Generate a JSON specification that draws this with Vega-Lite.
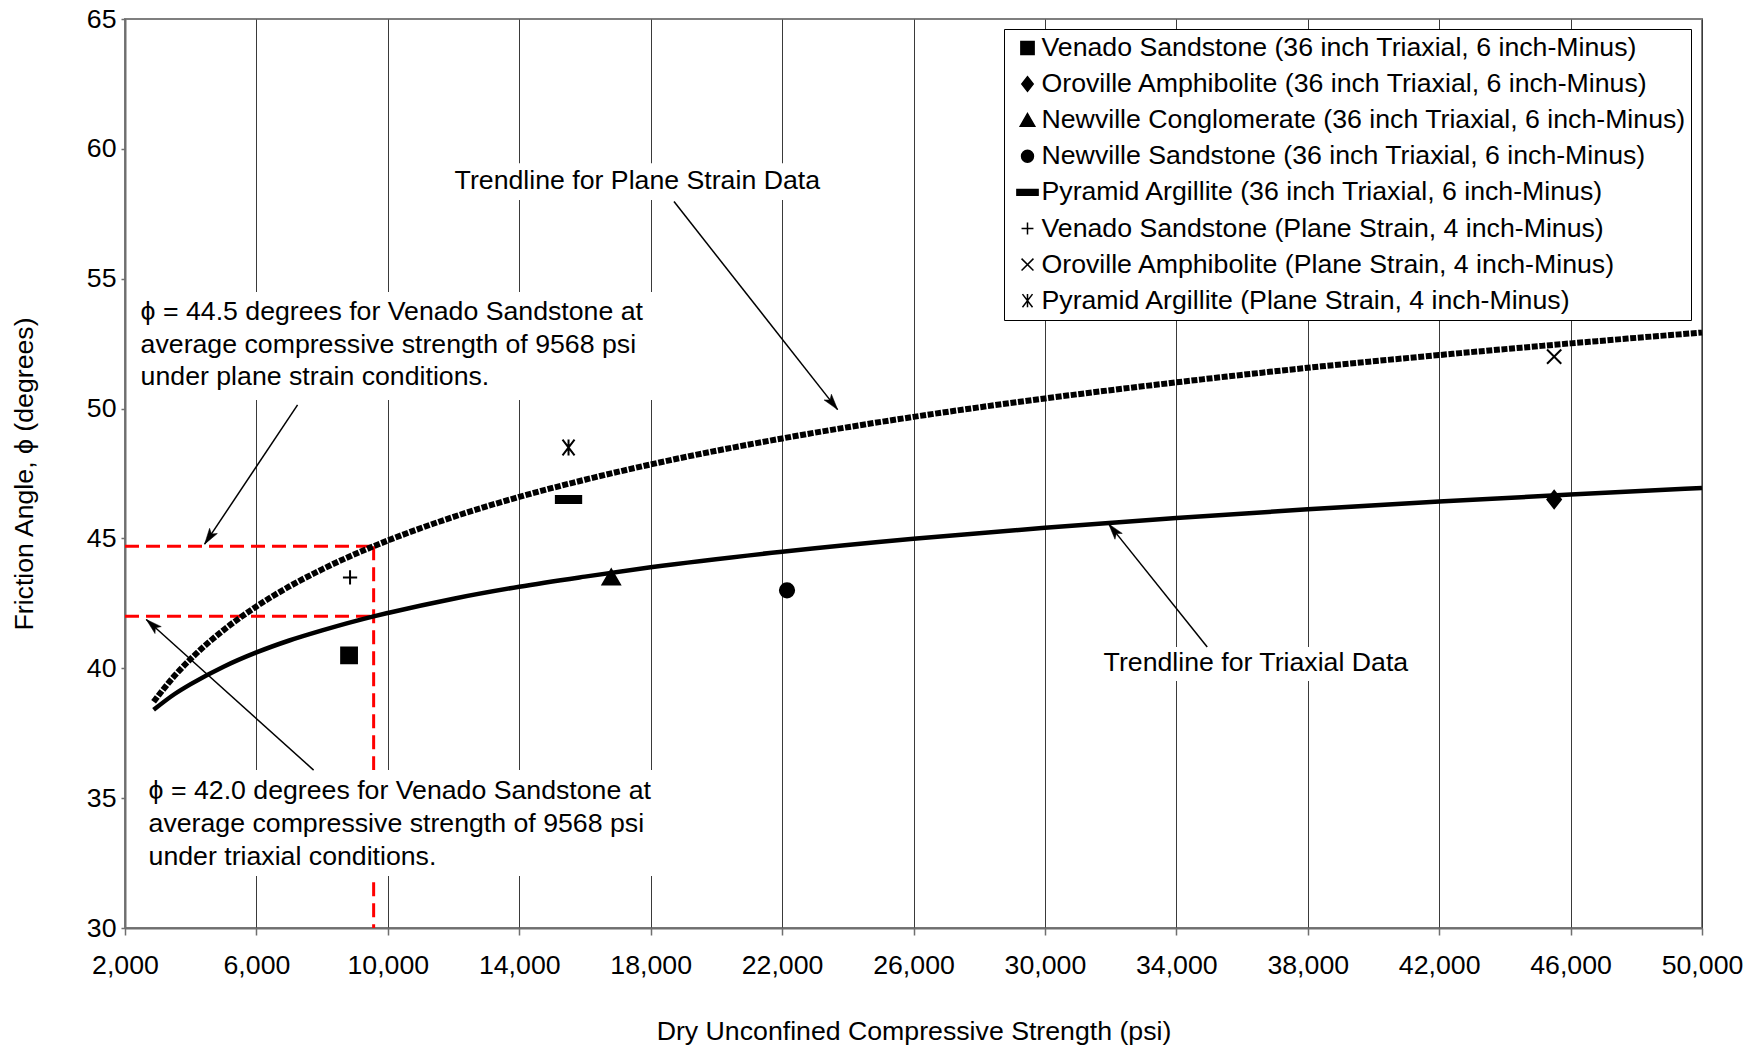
{
  "$schema": "https://vega.github.io/schema/vega-lite/v6.json",
  "width": 1577,
  "height": 909,
  "autosize": {"type": "none"},
  "padding": {"left": 125, "top": 19, "right": 54, "bottom": 120},
  "background": "white",
  "config": {
    "font": "Liberation Sans",
    "view": {"stroke": "#7f7f7f", "strokeWidth": 2},
    "axis": {
      "labelFont": "Liberation Sans", "labelFontSize": 26.7, "labelColor": "#000",
      "titleFont": "Liberation Sans", "titleFontSize": 26.7, "titleFontWeight": "normal", "titleColor": "#000",
      "domainColor": "#6f6f6f", "domainWidth": 2, "tickColor": "#6f6f6f", "tickWidth": 1.5
    },
    "legend": {
      "labelFont": "Liberation Sans", "labelFontSize": 26.7, "labelColor": "#000", "labelLimit": 1000
    }
  },
  "datasets": {
    "trend": [
      {"x": 2870, "y": 38.71, "fit": "plane"}, {"x": 3500, "y": 39.70, "fit": "plane"}, {"x": 4000, "y": 40.36, "fit": "plane"},
      {"x": 5000, "y": 41.47, "fit": "plane"}, {"x": 6000, "y": 42.38, "fit": "plane"}, {"x": 7000, "y": 43.15, "fit": "plane"},
      {"x": 8000, "y": 43.81, "fit": "plane"}, {"x": 9568, "y": 44.70, "fit": "plane"}, {"x": 10000, "y": 44.92, "fit": "plane"},
      {"x": 12000, "y": 45.83, "fit": "plane"}, {"x": 14000, "y": 46.60, "fit": "plane"}, {"x": 16000, "y": 47.26, "fit": "plane"},
      {"x": 18000, "y": 47.85, "fit": "plane"}, {"x": 22000, "y": 48.85, "fit": "plane"}, {"x": 26000, "y": 49.68, "fit": "plane"},
      {"x": 30000, "y": 50.39, "fit": "plane"}, {"x": 34000, "y": 51.01, "fit": "plane"}, {"x": 38000, "y": 51.57, "fit": "plane"},
      {"x": 42000, "y": 52.06, "fit": "plane"}, {"x": 46000, "y": 52.51, "fit": "plane"}, {"x": 50000, "y": 52.93, "fit": "plane"},
      {"x": 2870, "y": 38.40, "fit": "triaxial"}, {"x": 3500, "y": 39.00, "fit": "triaxial"}, {"x": 4000, "y": 39.39, "fit": "triaxial"},
      {"x": 5000, "y": 40.06, "fit": "triaxial"}, {"x": 6000, "y": 40.61, "fit": "triaxial"}, {"x": 7000, "y": 41.07, "fit": "triaxial"},
      {"x": 8000, "y": 41.46, "fit": "triaxial"}, {"x": 9568, "y": 42.00, "fit": "triaxial"}, {"x": 10000, "y": 42.13, "fit": "triaxial"},
      {"x": 12000, "y": 42.68, "fit": "triaxial"}, {"x": 14000, "y": 43.14, "fit": "triaxial"}, {"x": 16000, "y": 43.53, "fit": "triaxial"},
      {"x": 18000, "y": 43.89, "fit": "triaxial"}, {"x": 22000, "y": 44.49, "fit": "triaxial"}, {"x": 26000, "y": 44.99, "fit": "triaxial"},
      {"x": 30000, "y": 45.41, "fit": "triaxial"}, {"x": 34000, "y": 45.79, "fit": "triaxial"}, {"x": 38000, "y": 46.12, "fit": "triaxial"},
      {"x": 42000, "y": 46.42, "fit": "triaxial"}, {"x": 46000, "y": 46.69, "fit": "triaxial"}, {"x": 50000, "y": 46.94, "fit": "triaxial"}
    ],
    "pts": [
      {"x": 8820, "y": 40.5, "series": "Venado Sandstone (36 inch Triaxial, 6 inch-Minus)"},
      {"x": 45500, "y": 46.5, "series": "Oroville Amphibolite (36 inch Triaxial, 6 inch-Minus)"},
      {"x": 16800, "y": 43.5, "series": "Newville Conglomerate (36 inch Triaxial, 6 inch-Minus)"},
      {"x": 22150, "y": 43.0, "series": "Newville Sandstone (36 inch Triaxial, 6 inch-Minus)"},
      {"x": 15500, "y": 46.5, "series": "Pyramid Argillite (36 inch Triaxial, 6 inch-Minus)"},
      {"x": 8850, "y": 43.5, "series": "Venado Sandstone (Plane Strain, 4 inch-Minus)"},
      {"x": 45500, "y": 52.0, "series": "Oroville Amphibolite (Plane Strain, 4 inch-Minus)"},
      {"x": 15500, "y": 48.5, "series": "Pyramid Argillite (Plane Strain, 4 inch-Minus)"}
    ],
    "red": [
      {"x": 2000, "y": 44.7, "x2": 9568, "y2": 44.7},
      {"x": 2000, "y": 42.0, "x2": 9568, "y2": 42.0},
      {"x": 9568, "y": 44.7, "x2": 9568, "y2": 30}
    ],
    "boxes": [
      {"x": 2231, "y": 54.49, "x2": 18333, "y2": 50.33},
      {"x": 2444, "y": 36.08, "x2": 18516, "y2": 32.0},
      {"x": 11789, "y": 59.45, "x2": 23325, "y2": 58.03},
      {"x": 31604, "y": 40.82, "x2": 41283, "y2": 39.51}
    ],
    "labels": [
      {"x": 2475, "y": 53.70, "text": "ϕ = 44.5 degrees for Venado Sandstone at"},
      {"x": 2475, "y": 52.45, "text": "average compressive strength of 9568 psi"},
      {"x": 2475, "y": 51.20, "text": "under plane strain conditions."},
      {"x": 2718, "y": 35.29, "text": "ϕ = 42.0 degrees for Venado Sandstone at"},
      {"x": 2718, "y": 33.99, "text": "average compressive strength of 9568 psi"},
      {"x": 2718, "y": 32.74, "text": "under triaxial conditions."},
      {"x": 12032, "y": 58.75, "text": "Trendline for Plane Strain Data"},
      {"x": 31786, "y": 40.20, "text": "Trendline for Triaxial Data"}
    ],
    "arrows": [
      {"x": 18710, "y": 57.97, "x2": 23690, "y2": 49.96, "heading": 141.8},
      {"x": 34940, "y": 40.82, "x2": 31940, "y2": 45.56, "heading": -38.7},
      {"x": 7253, "y": 50.14, "x2": 4423, "y2": 44.78, "heading": -146.2},
      {"x": 7741, "y": 36.08, "x2": 2648, "y2": 41.88, "heading": -48}
    ]
  },
  "encoding": {
    "x": {
      "field": "x", "type": "quantitative",
      "scale": {"domain": [2000, 50000], "nice": false, "zero": false},
      "axis": {
        "values": [2000, 6000, 10000, 14000, 18000, 22000, 26000, 30000, 34000, 38000, 42000, 46000, 50000],
        "format": ",d", "grid": true, "gridColor": "#3a3a3a", "gridWidth": 1,
        "tickSize": 7, "labelPadding": 17, "titlePadding": 40, "labelFlush": false
      },
      "title": "Dry Unconfined Compressive Strength (psi)"
    },
    "y": {
      "field": "y", "type": "quantitative",
      "scale": {"domain": [30, 65], "nice": false, "zero": false},
      "axis": {
        "values": [30, 35, 40, 45, 50, 55, 60, 65], "grid": false,
        "tickSize": 4, "labelPadding": 5, "titlePadding": 48, "labelFlush": false
      },
      "title": "Friction Angle, ϕ (degrees)"
    }
  },
  "layer": [
    {
      "data": {"name": "red"},
      "mark": {"type": "rule", "color": "#ff0000", "strokeWidth": 3, "strokeDash": [14, 7]},
      "encoding": {"x2": {"field": "x2"}, "y2": {"field": "y2"}}
    },
    {
      "data": {"name": "boxes"},
      "mark": {"type": "rect", "fill": "white", "strokeWidth": 0},
      "encoding": {"x2": {"field": "x2"}, "y2": {"field": "y2"}}
    },
    {
      "data": {"name": "trend"},
      "transform": [{"filter": "datum.fit === 'plane'"}],
      "mark": {"type": "line", "color": "black", "strokeWidth": 6, "strokeDash": [6, 1.6], "interpolate": "monotone"},
      "encoding": {}
    },
    {
      "data": {"name": "trend"},
      "transform": [{"filter": "datum.fit === 'triaxial'"}],
      "mark": {"type": "line", "color": "black", "strokeWidth": 4.5, "interpolate": "monotone"},
      "encoding": {}
    },
    {
      "data": {"name": "pts"},
      "mark": {"type": "point", "filled": true, "fill": "black", "stroke": "black", "strokeWidth": 2, "size": 1000, "opacity": 1},
      "encoding": {
        "shape": {
          "field": "series", "type": "nominal",
          "scale": {
            "domain": [
              "Venado Sandstone (36 inch Triaxial, 6 inch-Minus)",
              "Oroville Amphibolite (36 inch Triaxial, 6 inch-Minus)",
              "Newville Conglomerate (36 inch Triaxial, 6 inch-Minus)",
              "Newville Sandstone (36 inch Triaxial, 6 inch-Minus)",
              "Pyramid Argillite (36 inch Triaxial, 6 inch-Minus)",
              "Venado Sandstone (Plane Strain, 4 inch-Minus)",
              "Oroville Amphibolite (Plane Strain, 4 inch-Minus)",
              "Pyramid Argillite (Plane Strain, 4 inch-Minus)"
            ],
            "range": [
              "M-0.5,-0.5L0.5,-0.5L0.5,0.5L-0.5,0.5Z",
              "M0,-0.55L0.43,0L0,0.55L-0.43,0Z",
              "M0,-0.5L0.55,0.45L-0.55,0.45Z",
              "M0.45,0A0.45,0.45,0,1,1,-0.45,0A0.45,0.45,0,1,1,0.45,0Z",
              "M-0.8,-0.22L0.8,-0.22L0.8,0.22L-0.8,0.22Z",
              "M-0.45,0L0.45,0M0,-0.45L0,0.45",
              "M-0.45,-0.45L0.45,0.45M-0.45,0.45L0.45,-0.45",
              "M-0.38,-0.5L0.38,0.5M-0.38,0.5L0.38,-0.5M0,-0.5L0,0.5"
            ]
          },
          "legend": {
            "title": null, "orient": "none", "legendX": 879, "legendY": 10,
            "padding": 5, "rowPadding": 8.1, "labelOffset": 0, "symbolOffset": 4.5,
            "symbolSize": 700,
            "fillColor": "white", "strokeColor": "#000",
            "encode": {
              "symbols": {
                "update": {
                  "fill": {"value": "black"},
                  "stroke": {"value": "black"},
                  "strokeWidth": {"value": 1.8},
                  "opacity": {"value": 1},
                  "fillOpacity": {"value": 1},
                  "strokeOpacity": {"value": 1}
                }
              }
            }
          }
        }
      }
    },
    {
      "data": {"name": "labels"},
      "mark": {"type": "text", "align": "left", "baseline": "middle", "fontSize": 26.7, "font": "Liberation Sans", "color": "black"},
      "encoding": {"text": {"field": "text"}}
    },
    {
      "data": {"name": "arrows"},
      "mark": {"type": "rule", "color": "black", "strokeWidth": 1.5},
      "encoding": {"x2": {"field": "x2"}, "y2": {"field": "y2"}}
    },
    {
      "data": {"name": "arrows"},
      "mark": {"type": "point", "shape": "M0,0L0.38,1.3L0,1.0L-0.38,1.3Z", "filled": true, "fill": "black", "stroke": "black", "strokeWidth": 0.5, "size": 600, "opacity": 1},
      "encoding": {
        "x": {"field": "x2", "type": "quantitative"},
        "y": {"field": "y2", "type": "quantitative"},
        "angle": {"field": "heading", "type": "quantitative", "scale": null}
      }
    }
  ]
}
